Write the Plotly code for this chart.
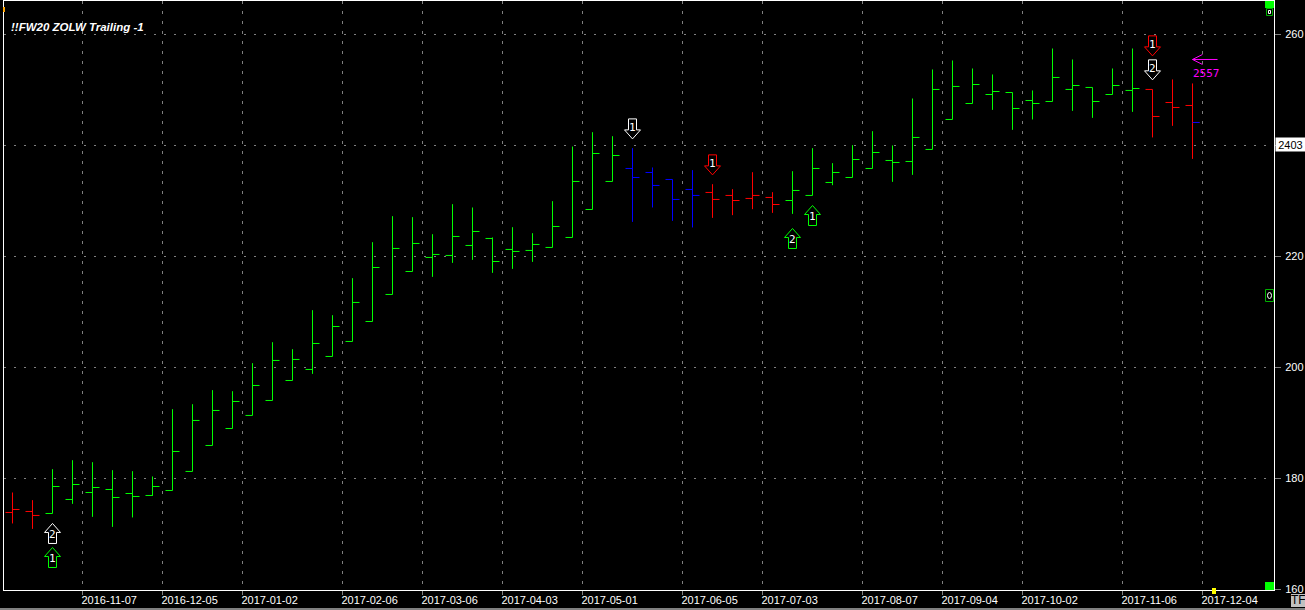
import plotly.graph_objects as go

# Weekly bars, oldest first (price in points / 10)
opens = [173.88,174.06,173.70,176.22,177.48,178.02,177.30,176.94,177.84,181.27,185.95,189.01,191.36,194.06,197.66,199.65,201.99,204.69,208.29,213.16,
         217.30,219.83,220.19,221.99,223.25,221.27,221.09,221.63,223.43,228.47,233.52,235.86,235.14,233.88,232.08,231.54,231.00,230.46,230.64,230.09,
         231.00,233.34,234.24,235.86,237.30,237.12,239.29,244.69,247.57,249.19,249.55,248.11,247.93,250.10,250.46,249.19,249.92,250.10,247.75,247.21]
highs = [177.48,176.10,181.68,183.30,182.94,181.50,181.32,180.37,192.49,193.39,195.92,195.73,200.78,204.56,203.30,210.33,209.43,216.10,222.58,227.27,
         227.09,224.02,229.43,228.83,223.43,225.28,224.20,229.97,239.82,242.40,241.68,239.52,236.04,233.88,235.56,233.03,232.13,235.19,231.59,235.37,
         239.52,236.82,240.06,242.58,240.01,248.47,253.70,255.32,253.88,252.80,249.55,249.92,257.48,255.50,250.46,253.88,257.48,250.10,251.90,251.18]
lows = [171.90,170.92,173.70,175.43,173.09,171.28,172.98,176.87,177.84,181.27,185.95,189.01,191.36,194.06,197.66,198.85,201.99,204.69,208.29,213.16,
        217.30,216.33,218.85,219.39,217.05,217.77,219.03,221.63,223.43,228.47,233.52,226.24,228.83,226.42,225.23,226.96,227.45,228.53,227.86,227.68,
        231.00,232.85,234.24,235.86,233.45,234.71,239.29,244.69,247.57,246.42,242.82,244.69,247.93,246.24,244.98,249.19,246.06,241.45,243.54,237.59]
closes = [174.42,173.34,178.56,178.92,178.38,176.58,176.76,178.56,184.87,190.46,192.26,193.88,196.76,201.27,201.45,204.33,207.39,211.72,218.02,221.45,
          222.35,220.37,223.61,224.51,219.10,220.91,222.17,225.41,233.52,238.56,238.20,234.24,232.80,230.28,231.00,230.28,230.09,231.00,229.37,231.90,
          235.86,235.14,237.48,238.74,236.94,241.45,250.10,250.64,250.99,249.73,246.67,247.57,252.26,250.81,247.93,250.81,250.27,245.23,246.85,244.15]
# one letter per bar: r red, g green, b blue
bar_colors = "rr" + "g" * 29 + "bbbb" + "rrrr" + "g" * 18 + "rrr"
last_close_color = "#0000ff"

# tick labels sit between two bars
date_positions = [3.5,7.5,11.5,16.5,20.5,24.5,28.5,33.5,37.5,42.5,46.5,50.5,55.5,59.5]
date_labels = ["2016-11-07","2016-12-05","2017-01-02","2017-02-06","2017-03-06","2017-04-03","2017-05-01",
               "2017-06-05","2017-07-03","2017-08-07","2017-09-04","2017-10-02","2017-11-06","2017-12-04"]
price_ticks = [160,180,200,220,240,260]
price_labels = ["160","180","200","220","","260"]  # 240 is covered by the last-price box

title_text = "!!FW20 ZOLW Trailing -1"
last_price_text = "2403"
last_price_level = 240.1
target_text = "2557"
target_level = 255.5
target_bar = 59

# signal arrows: bar index, tip price, direction, colour, digit
arrow_bars = [2,2,31,35,39,40,57,57]
arrow_tips = [171.90,167.57,241.19,234.71,225.05,229.19,256.15,251.83]
arrow_dirs = ["up","up","down","down","up","up","down","down"]
arrow_colors = ["#ffffff","#00ff00","#ffffff","#ff0000","#00ff00","#00ff00","#ff0000","#ffffff"]
arrow_digits = ["2","1","1","1","2","1","1","2"]

GREEN, RED, BLUE, GRID = "#00ff00", "#ff0000", "#0000ff", "#808080"
COLOR = {"g": GREEN, "r": RED, "b": BLUE}
FONT = "Liberation Sans"

fig = go.Figure()
for key, col in COLOR.items():
    idx = [i for i, c in enumerate(bar_colors) if c == key]
    fig.add_trace(go.Ohlc(
        x=idx, open=[opens[i] for i in idx], high=[highs[i] for i in idx],
        low=[lows[i] for i in idx], close=[closes[i] for i in idx],
        increasing=dict(line=dict(color=col, width=1)),
        decreasing=dict(line=dict(color=col, width=1)),
        tickwidth=0.35, hoverinfo="skip", showlegend=False))
# last bar's close tick is drawn in blue
last = len(closes) - 1
fig.add_trace(go.Scatter(x=[last, last + 0.35], y=[closes[last], closes[last]], mode="lines",
                         line=dict(color=last_close_color, width=1), hoverinfo="skip", showlegend=False))

shapes, annotations = [], []
def up_path():
    return "M0,0 L8,-9 L4,-9 L4,-20 L-4,-20 L-4,-9 L-8,-9 Z"
def down_path():
    return "M0,0 L8,9 L4,9 L4,20 L-4,20 L-4,9 L-8,9 Z"
for b, t, d, c, n in zip(arrow_bars, arrow_tips, arrow_dirs, arrow_colors, arrow_digits):
    shapes.append(dict(type="path", xref="x", yref="y", xsizemode="pixel", ysizemode="pixel",
                       xanchor=b, yanchor=t, path=up_path() if d == "up" else down_path(),
                       line=dict(color=c, width=1), fillcolor="#000000", layer="above"))
    annotations.append(dict(x=b, y=t, xref="x", yref="y", text=n, showarrow=False, xanchor="center", yanchor="middle",
                            yshift=-11 if d == "up" else 11,
                            font=dict(family="DejaVu Sans Mono", size=11, color="#ffffff")))

# magenta target arrow and its price
shapes.append(dict(type="path", xref="x", yref="y", xsizemode="pixel", ysizemode="pixel",
                   xanchor=target_bar, yanchor=target_level,
                   path="M25,0 L0,0 M10,5 L0,0 L10,-5", line=dict(color="#ff00ff", width=1), layer="above"))
annotations.append(dict(x=target_bar, y=target_level, xref="x", yref="y", text=target_text, showarrow=False,
                        xanchor="left", yanchor="middle", xshift=-2, yshift=-14,
                        font=dict(family="DejaVu Sans Mono", size=11, color="#ff00ff")))

# chart furniture, placed in pixels from the plot's lower-left corner
def box(x0, y0, x1, y1, fill, line=None, kind="rect"):
    shapes.append(dict(type=kind, xref="paper", yref="paper", xsizemode="pixel", ysizemode="pixel",
                       xanchor=0, yanchor=0, x0=x0 - 4, x1=x1 - 4, y0=590 - y0, y1=590 - y1,
                       fillcolor=fill, line=dict(width=1 if line else 0, color=line or fill), layer="above"))
box(1265, 1, 1274, 8, GREEN)
box(1266.5, 8.5, 1272.5, 15.5, "#000000", "#00b000")
box(1268.5, 10.5, 1270.5, 13.5, "#000000", "#ffffff")
box(1265.5, 289.5, 1273.5, 301.5, "#000000", "#00b000")
box(1267.5, 292.5, 1271.5, 298.5, "#000000", "#ffffff", "circle")
box(3, 7, 5, 12, "#ffa500")
box(1265, 582, 1274, 590, GREEN)
box(1212, 588, 1216, 594, "#ffff00")
box(1291, 594, 1305, 607, "#c0c0c0")
box(0, 608, 1305, 610, "#808080")

annotations.append(dict(x=(9 - 4) / 1270, y=(590 - 27) / 589, xref="paper", yref="paper",
                        text="<b><i>" + title_text + "</i></b>", showarrow=False,
                        xanchor="left", yanchor="middle", font=dict(family=FONT, size=11.5, color="#ffffff")))
annotations.append(dict(x=(1290.5 - 4) / 1270, y=last_price_level, xref="paper", yref="y", text=last_price_text,
                        showarrow=False, xanchor="center", yanchor="middle", width=29, height=13, borderpad=0,
                        bgcolor="#ffffff", font=dict(family=FONT, size=11, color="#000000")))
annotations.append(dict(x=(1298 - 4) / 1270, y=(590 - 600.5) / 589, xref="paper", yref="paper", text="TF", showarrow=False,
                        xanchor="center", yanchor="middle", font=dict(family=FONT, size=12, color="#000000")))

fig.update_layout(
    width=1305, height=610, autosize=False,
    margin=dict(l=4, r=31, t=1, b=20, pad=0),
    paper_bgcolor="#000000", plot_bgcolor="#000000",
    font=dict(family=FONT, size=11, color="#ffffff"),
    shapes=shapes, annotations=annotations, showlegend=False,
    xaxis=dict(range=[-0.425, 63.075], tickmode="array", tickvals=date_positions, ticktext=date_labels,
               ticklabelposition="outside right", ticklabelshift=-2, ticks="outside", ticklen=4, tickcolor=GRID,
               showgrid=True, gridcolor=GRID, griddash="3px,7px", gridwidth=1, zeroline=False,
               showline=True, linecolor="#ffffff", linewidth=1, mirror=True, rangeslider=dict(visible=False),
               tickfont=dict(family=FONT, size=11, color="#ffffff")),
    yaxis=dict(range=[159.91, 266.036], side="right", tickmode="array", tickvals=price_ticks, ticktext=price_labels,
               ticks="outside", ticklabelstandoff=2,
               ticklen=6, tickcolor=GRID, showgrid=True, gridcolor=GRID, griddash="2px,8px", gridwidth=1, zeroline=False,
               showline=True, linecolor="#ffffff", linewidth=1, mirror=True,
               tickfont=dict(family=FONT, size=11, color="#ffffff")),
)
fig.write_html("out.html", config={"displayModeBar": False},
               post_script="document.body.style.margin='0';document.body.style.overflow='hidden';")
